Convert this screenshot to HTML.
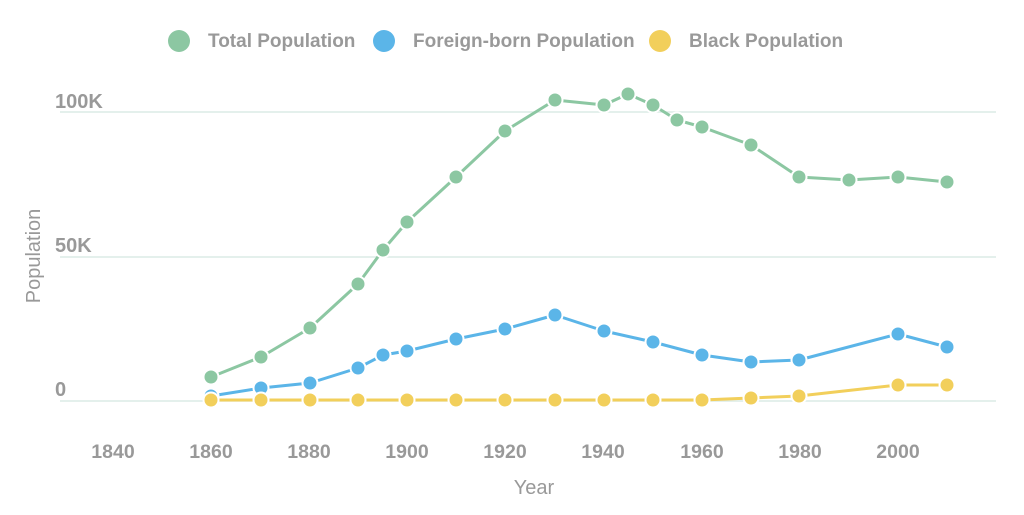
<!DOCTYPE html>
<html><head><meta charset="utf-8"><style>
body{margin:0;background:#fff;}
svg text{font-family:"Liberation Sans",sans-serif;}
circle{r:7.5px}
</style></head><body>
<svg width="1024" height="510" xmlns="http://www.w3.org/2000/svg">
<g font-size="19" fill="#999" font-weight="bold">
<circle cx="179" cy="41" r="11" style="r:11px" fill="#8cc7a2"/><text x="208" y="47">Total Population</text>
<circle cx="384" cy="41" r="11" style="r:11px" fill="#5bb5e8"/><text x="413" y="47">Foreign-born Population</text>
<circle cx="660" cy="41" r="11" style="r:11px" fill="#f2cf5b"/><text x="689" y="47">Black Population</text>
</g>
<g stroke="#dcebe6" stroke-width="1.5">
<line x1="60" y1="112" x2="996" y2="112"/><line x1="60" y1="257" x2="996" y2="257"/><line x1="60" y1="401" x2="996" y2="401"/>
</g>
<g fill="#999" font-weight="bold">
<g font-size="20"><text x="55" y="108">100K</text><text x="55" y="252">50K</text><text x="55" y="396">0</text></g>
<g text-anchor="middle" font-size="19.5"><text x="113" y="458">1840</text><text x="211" y="458">1860</text><text x="309" y="458">1880</text><text x="407" y="458">1900</text><text x="505" y="458">1920</text><text x="603" y="458">1940</text><text x="702" y="458">1960</text><text x="800" y="458">1980</text><text x="898" y="458">2000</text></g>
</g>
<text x="534" y="494" font-size="20" fill="#999" text-anchor="middle">Year</text>
<text x="40" y="256" font-size="20" fill="#999" text-anchor="middle" transform="rotate(-90 40 256)">Population</text>
<g fill="none" stroke-width="3" stroke-linejoin="round">
<polyline stroke="#8cc7a2" points="211,377 261,357 310,328 358,284 383,250 407,222 456,177 505,131 555,100 604,105 628,94 653,105 677,120 702,127 751,145 799,177 849,180 898,177 947,182"/>
<polyline stroke="#5bb5e8" points="211,396 261,388 310,383 358,368 383,355 407,351 456,339 505,329 555,315 604,331 653,342 702,355 751,362 799,360 898,334 947,347"/>
<polyline stroke="#f2cf5b" points="211,400 702,400 751,398 799,396 898,385 947,385"/>
</g>
<g fill="#8cc7a2" stroke="#fff" stroke-width="2">
<circle cx="211" cy="377" r="7.5"/><circle cx="261" cy="357" r="7.5"/><circle cx="310" cy="328" r="7.5"/><circle cx="358" cy="284" r="7.5"/><circle cx="383" cy="250" r="7.5"/><circle cx="407" cy="222" r="7.5"/><circle cx="456" cy="177" r="7.5"/><circle cx="505" cy="131" r="7.5"/><circle cx="555" cy="100" r="7.5"/><circle cx="604" cy="105" r="7.5"/><circle cx="628" cy="94" r="7.5"/><circle cx="653" cy="105" r="7.5"/><circle cx="677" cy="120" r="7.5"/><circle cx="702" cy="127" r="7.5"/><circle cx="751" cy="145" r="7.5"/><circle cx="799" cy="177" r="7.5"/><circle cx="849" cy="180" r="7.5"/><circle cx="898" cy="177" r="7.5"/><circle cx="947" cy="182" r="7.5"/>
</g>
<g fill="#5bb5e8" stroke="#fff" stroke-width="2">
<circle cx="211" cy="396" r="7.5"/><circle cx="261" cy="388" r="7.5"/><circle cx="310" cy="383" r="7.5"/><circle cx="358" cy="368" r="7.5"/><circle cx="383" cy="355" r="7.5"/><circle cx="407" cy="351" r="7.5"/><circle cx="456" cy="339" r="7.5"/><circle cx="505" cy="329" r="7.5"/><circle cx="555" cy="315" r="7.5"/><circle cx="604" cy="331" r="7.5"/><circle cx="653" cy="342" r="7.5"/><circle cx="702" cy="355" r="7.5"/><circle cx="751" cy="362" r="7.5"/><circle cx="799" cy="360" r="7.5"/><circle cx="898" cy="334" r="7.5"/><circle cx="947" cy="347" r="7.5"/>
</g>
<g fill="#f2cf5b" stroke="#fff" stroke-width="2">
<circle cx="211" cy="400" r="7.5"/><circle cx="261" cy="400" r="7.5"/><circle cx="310" cy="400" r="7.5"/><circle cx="358" cy="400" r="7.5"/><circle cx="407" cy="400" r="7.5"/><circle cx="456" cy="400" r="7.5"/><circle cx="505" cy="400" r="7.5"/><circle cx="555" cy="400" r="7.5"/><circle cx="604" cy="400" r="7.5"/><circle cx="653" cy="400" r="7.5"/><circle cx="702" cy="400" r="7.5"/><circle cx="751" cy="398" r="7.5"/><circle cx="799" cy="396" r="7.5"/><circle cx="898" cy="385" r="7.5"/><circle cx="947" cy="385" r="7.5"/>
</g>
</svg>
</body></html>
